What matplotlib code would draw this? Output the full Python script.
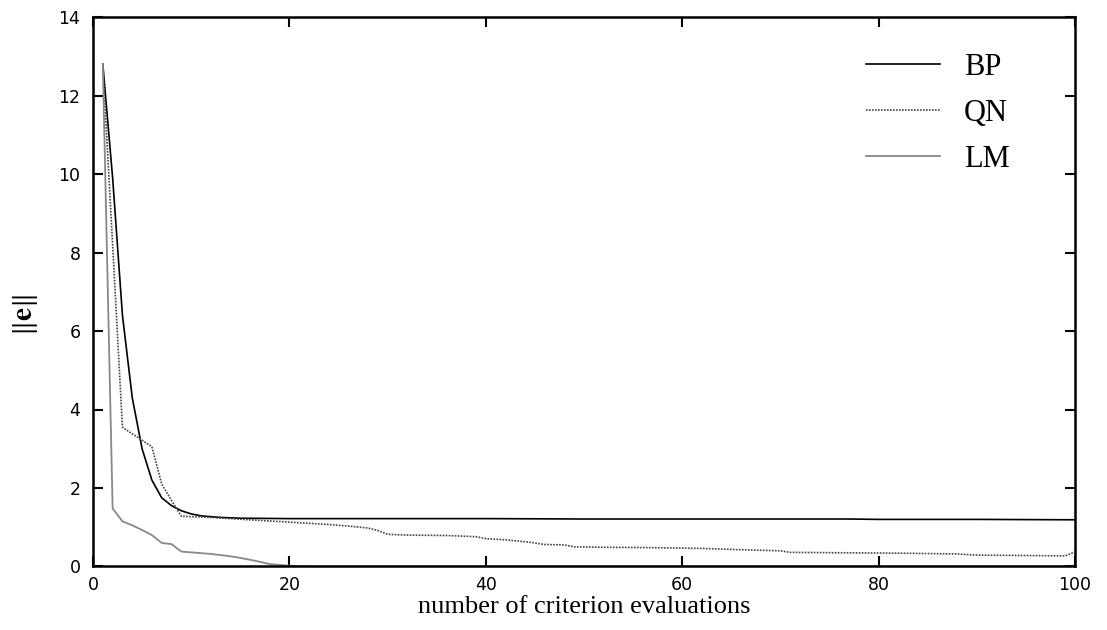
import matplotlib
matplotlib.use("Agg")
import matplotlib.pyplot as plt

plt.rcParams["mathtext.fontset"] = "stix"

# data
bp_x = [1, 2, 3, 4, 5, 6, 7, 8, 9, 10, 11, 12, 13, 14, 15, 20, 30, 40, 50, 60, 70, 77, 80, 90, 100]
bp_y = [12.8, 9.9, 6.4, 4.3, 3.0, 2.2, 1.75, 1.55, 1.42, 1.34, 1.29, 1.27, 1.25, 1.24, 1.23,
        1.22, 1.22, 1.22, 1.21, 1.21, 1.21, 1.21, 1.2, 1.2, 1.19]

qn_x = [1, 2, 3, 4, 5, 6, 7, 8, 9, 10, 12, 14, 16, 18, 20, 22, 24, 26, 28, 29, 30, 32, 36,
        39, 40, 42, 44, 45, 46, 48, 49, 52, 57, 62, 67, 70, 71, 76, 82, 88, 90, 95, 99, 100]
qn_y = [12.8, 8.2, 3.55, 3.38, 3.22, 3.05, 2.1, 1.68, 1.28, 1.27, 1.25, 1.22, 1.19, 1.16,
        1.13, 1.1, 1.07, 1.03, 0.98, 0.92, 0.82, 0.8, 0.79, 0.76, 0.71, 0.68, 0.63, 0.6,
        0.56, 0.55, 0.5, 0.49, 0.48, 0.46, 0.42, 0.4, 0.36, 0.35, 0.34, 0.32, 0.29, 0.28,
        0.27, 0.37]

lm_x = [1, 2, 3, 4, 5, 6, 7, 8, 9, 10, 12, 14, 15, 17, 18, 20, 22, 100]
lm_y = [12.8, 1.48, 1.15, 1.05, 0.93, 0.8, 0.6, 0.57, 0.38, 0.36, 0.32, 0.26, 0.22, 0.12,
        0.06, 0.02, 0.0, 0.0]

labels = ["BP", "QN", "LM"]
xticks = [0, 20, 40, 60, 80, 100]
yticks = [0, 2, 4, 6, 8, 10, 12, 14]

fig = plt.figure(figsize=(11.07, 6.30), dpi=100)
ax = fig.add_axes([0.084, 0.1008, 0.887, 0.8722])

ax.plot(bp_x, bp_y, color="black", lw=1.2, label=labels[0])
ax.plot(qn_x, qn_y, color="#444444", lw=1.2, linestyle=(0, (1, 0.8)), label=labels[1])
ax.plot(lm_x, lm_y, color="#888888", lw=1.3, label=labels[2])

ax.set_xlim(0, 100)
ax.set_ylim(0, 14)
ax.set_xticks(xticks)
ax.set_yticks(yticks)
ax.tick_params(direction="in", length=7, width=1.5, top=True, right=True,
               labelsize=12.5)
ax.tick_params(axis="x", pad=7)
ax.tick_params(axis="y", pad=9)
for lab in ax.get_xticklabels() + ax.get_yticklabels():
    lab.set_fontfamily("DejaVu Sans")
for s in ax.spines.values():
    s.set_linewidth(1.8)

ax.set_xlabel("number of criterion evaluations", family="Liberation Serif",
              fontsize=19, labelpad=1)
fig.text(0.0226, 0.50, r"$\Vert\mathbf{e}\Vert$", rotation=90, fontsize=21,
         ha="center", va="center")

leg = ax.legend(loc="upper left", bbox_to_anchor=(0.772, 0.962), frameon=False,
                prop={"family": "Liberation Serif", "size": 22},
                handlelength=2.4, handletextpad=0.8, labelspacing=0.55,
                borderpad=0)

fig.savefig("out.png", dpi=100)
